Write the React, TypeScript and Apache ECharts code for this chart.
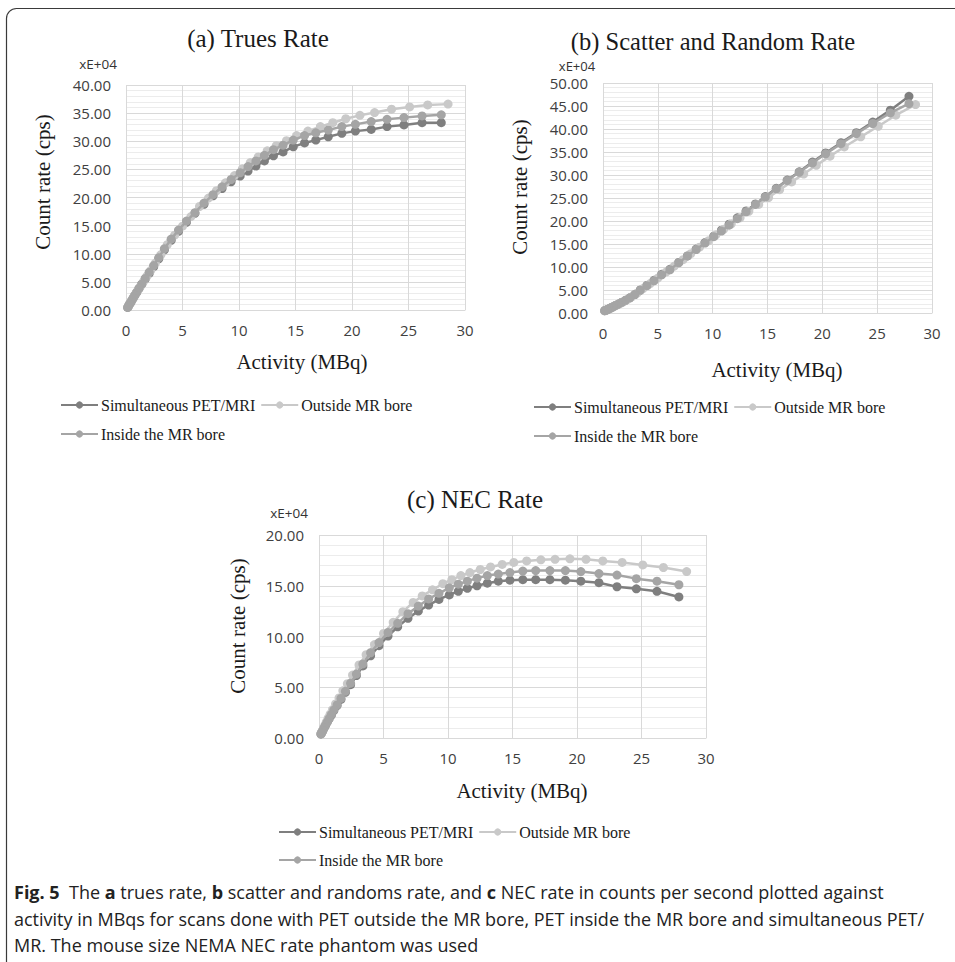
import React, { useEffect, useRef } from "react";
import * as echarts from "echarts";

// ---------- data ----------
const SERIES_NAMES = ["Simultaneous PET/MRI", "Outside MR bore", "Inside the MR bore"];
const COLORS = ["#7f7f7f", "#c9c9c9", "#a5a5a5"];

// activity (MBq) for simultaneous & inside-bore scans
const xSim = [27.9, 26.2, 24.6, 23.1, 21.7, 20.3, 19.1, 17.9, 16.8, 15.8, 14.8, 13.9, 13.05, 12.25, 11.5, 10.8, 10.1, 9.3, 8.5, 7.7, 6.9, 6.1, 5.35, 4.65, 4.0, 3.4, 2.9, 2.45, 2.05, 1.7, 1.4, 1.15, 0.95, 0.78, 0.63, 0.5, 0.4, 0.3, 0.22, 0.15];
// activity (MBq) for outside-bore scans
const xOut = [28.5, 26.7, 25.1, 23.5, 22.0, 20.7, 19.45, 18.3, 17.2, 16.1, 15.1, 14.2, 13.3, 12.5, 11.7, 11.0, 10.3, 9.6, 8.8, 8.0, 7.3, 6.5, 5.75, 5.0, 4.3, 3.65, 3.1, 2.6, 2.2, 1.85, 1.55, 1.28, 1.05, 0.86, 0.7, 0.56, 0.44, 0.34, 0.25, 0.17];

// (a) trues rate (xE+04 cps)
const truesSim = [33.3, 33.3, 32.9, 32.6, 32.1, 31.8, 31.4, 30.8, 30.2, 29.7, 29.0, 28.1, 27.4, 26.5, 25.6, 24.7, 23.8, 22.8, 21.6, 20.3, 18.8, 17.2, 15.6, 14.0, 12.4, 10.7, 9.1, 7.7, 6.5, 5.5, 4.6, 3.8, 3.15, 2.6, 2.1, 1.65, 1.3, 1.0, 0.7, 0.45];
const truesOut = [36.6, 36.45, 36.1, 35.7, 35.1, 34.6, 34.0, 33.3, 32.6, 31.8, 31.0, 30.1, 29.2, 28.3, 27.2, 26.2, 25.1, 23.9, 22.6, 21.2, 19.9, 18.4, 16.6, 14.9, 13.3, 11.6, 9.85, 8.35, 7.05, 6.0, 5.05, 4.2, 3.5, 2.9, 2.35, 1.9, 1.5, 1.15, 0.8, 0.55];
const truesIn = [34.7, 34.5, 34.2, 33.9, 33.5, 33.0, 32.6, 32.0, 31.5, 31.0, 30.2, 29.3, 28.5, 27.5, 26.5, 25.5, 24.4, 23.2, 21.9, 20.5, 19.0, 17.3, 15.8, 14.2, 12.6, 10.9, 9.3, 7.9, 6.7, 5.6, 4.6, 3.85, 3.15, 2.6, 2.1, 1.65, 1.3, 1.0, 0.7, 0.45];

// (b) scatter and random rate (xE+04 cps)
const scatSim = [47.1, 44.1, 41.5, 39.2, 37.0, 34.8, 32.8, 30.7, 28.9, 27.1, 25.3, 23.7, 22.2, 20.7, 19.3, 18.0, 16.7, 15.3, 13.9, 12.4, 11.0, 9.5, 8.4, 7.1, 6.0, 5.0, 4.0, 3.3, 2.75, 2.3, 1.95, 1.65, 1.4, 1.2, 1.0, 0.85, 0.75, 0.65, 0.55, 0.5];
const scatOut = [45.3, 43.0, 40.6, 38.3, 36.1, 34.1, 32.1, 30.2, 28.5, 26.8, 25.1, 23.6, 22.1, 20.7, 19.4, 18.2, 17.0, 15.7, 14.3, 12.9, 11.6, 10.2, 8.9, 7.6, 6.4, 5.3, 4.3, 3.5, 2.9, 2.45, 2.05, 1.75, 1.5, 1.25, 1.05, 0.9, 0.78, 0.66, 0.56, 0.48];
const scatIn = [45.5, 43.5, 41.2, 39.0, 36.8, 34.6, 32.6, 30.6, 28.8, 27.0, 25.2, 23.6, 22.0, 20.5, 19.1, 17.8, 16.6, 15.2, 13.8, 12.4, 10.9, 9.4, 8.3, 7.0, 5.95, 4.95, 4.0, 3.3, 2.75, 2.3, 1.95, 1.65, 1.4, 1.2, 1.0, 0.85, 0.75, 0.65, 0.55, 0.5];

// (c) NEC rate (xE+04 cps)
const necSim = [13.9, 14.45, 14.7, 14.9, 15.3, 15.45, 15.55, 15.6, 15.6, 15.6, 15.55, 15.45, 15.25, 15.0, 14.75, 14.45, 14.1, 13.65, 13.1, 12.5, 11.8, 10.95, 10.05, 9.1, 8.1, 7.1, 6.15, 5.25, 4.5, 3.8, 3.2, 2.7, 2.25, 1.9, 1.55, 1.25, 1.0, 0.75, 0.55, 0.4];
const necOut = [16.4, 16.8, 17.05, 17.3, 17.45, 17.6, 17.65, 17.6, 17.55, 17.45, 17.3, 17.1, 16.85, 16.6, 16.3, 16.0, 15.6, 15.2, 14.6, 14.0, 13.35, 12.45, 11.4, 10.3, 9.2, 8.2, 7.2, 6.2, 5.35, 4.65, 3.95, 3.35, 2.8, 2.35, 1.95, 1.55, 1.2, 0.95, 0.7, 0.5];
const necIn = [15.1, 15.45, 15.7, 16.05, 16.2, 16.4, 16.5, 16.5, 16.5, 16.45, 16.3, 16.15, 16.0, 15.75, 15.45, 15.15, 14.8, 14.25, 13.7, 13.0, 12.25, 11.3, 10.4, 9.4, 8.4, 7.3, 6.3, 5.4, 4.6, 3.9, 3.25, 2.75, 2.3, 1.9, 1.55, 1.25, 1.0, 0.75, 0.55, 0.4];

const X_TICKS = { min: 0, max: 30, interval: 5 };
const Y_MAX = [40, 50, 20];

const TITLES = ["(a) Trues Rate", "(b) Scatter and Random Rate", "(c) NEC Rate"];
const X_TITLE = "Activity (MBq)";
const Y_TITLE = "Count rate (cps)";
const Y_UNIT = "xE+04";
const CAPTION = [
  "{b|Fig. 5}  The {b|a} trues rate, {b|b} scatter and randoms rate, and {b|c} NEC rate in counts per second plotted against",
  "activity in MBqs for scans done with PET outside the MR bore, PET inside the MR bore and simultaneous PET/",
  "MR. The mouse size NEMA NEC rate phantom was used",
];

// ---------- layout ----------
const GRIDS = [
  { left: 126, top: 85, width: 339, height: 225 },
  { left: 603, top: 83, width: 329, height: 230 },
  { left: 319, top: 535, width: 387, height: 203 },
];

const SERIF = "Liberation Serif";
const SANS = "Open Sans";

function pts(xs: number[], ys: number[]) {
  return xs.map((x, i) => [x, ys[i]]);
}

function text(x: number, y: number, t: string, size: number, family: string, extra: any = {}) {
  return {
    type: "text",
    x,
    y,
    rotation: extra.rotation || 0,
    silent: true,
    style: {
      text: t,
      fontSize: size,
      fontFamily: family,
      fill: extra.fill || "#1a1a1a",
      align: extra.align || "center",
      verticalAlign: "middle",
      textAlign: extra.align || "center",
      textVerticalAlign: "middle",
      fontWeight: "normal",
      rich: extra.rich,
    },
  };
}

export default function App() {
  const ref = useRef<HTMLDivElement>(null);

  useEffect(() => {
    if (!ref.current) return;
    const chart = echarts.init(ref.current, null, { renderer: "svg" });

    const xAxes = GRIDS.map((_, i) => ({
      type: "value",
      gridIndex: i,
      ...X_TICKS,
      axisLine: { show: true, lineStyle: { color: "#d9d9d9", width: 1 } },
      axisTick: { show: false },
      axisLabel: { color: "#404040", fontSize: 15, fontFamily: SANS, margin: 12 },
      splitLine: { show: true, lineStyle: { color: "#d9d9d9", width: 1 } },
    }));
    const yAxes = GRIDS.map((_, i) => ({
      type: "value",
      gridIndex: i,
      min: 0,
      max: Y_MAX[i],
      interval: 5,
      axisLine: { show: false },
      axisTick: { show: false },
      axisLabel: {
        color: "#404040",
        fontSize: 15,
        fontFamily: SANS,
        margin: 15,
        formatter: (v: number) => v.toFixed(2),
      },
      splitLine: { show: true, lineStyle: { color: "#d9d9d9", width: 1 } },
      minorTick: { show: false, splitNumber: 5 },
      minorSplitLine: { show: true, lineStyle: { color: "#ececec", width: 1 } },
    }));

    const dataSets = [
      [pts(xSim, truesSim), pts(xOut, truesOut), pts(xSim, truesIn)],
      [pts(xSim, scatSim), pts(xOut, scatOut), pts(xSim, scatIn)],
      [pts(xSim, necSim), pts(xOut, necOut), pts(xSim, necIn)],
    ];

    const series: any[] = [];
    dataSets.forEach((sets, g) => {
      sets.forEach((d, k) => {
        series.push({
          type: "line",
          name: SERIES_NAMES[k],
          xAxisIndex: g,
          yAxisIndex: g,
          data: d,
          symbol: "circle",
          symbolSize: 9,
          showSymbol: true,
          color: COLORS[k],
          itemStyle: { color: COLORS[k] },
          lineStyle: { color: COLORS[k], width: 2.5 },
          z: 2 + k,
        });
      });
    });

    const legendBase = {
      orient: "horizontal",
      padding: 0,
      itemWidth: 37,
      itemHeight: 9,
      itemGap: 5,
      selectedMode: false,
      textStyle: { fontFamily: SERIF, fontSize: 16, color: "#1a1a1a", padding: [0, 0, 0, -2] },
    };
    const legendPos = [
      [60, 397, 426],
      [533, 399, 428],
      [278, 824, 852],
    ];
    const legends: any[] = [];
    legendPos.forEach(([left, t1, t2]) => {
      legends.push({ ...legendBase, left, top: t1, data: [SERIES_NAMES[0], SERIES_NAMES[1]] });
      legends.push({ ...legendBase, left, top: t2, data: [SERIES_NAMES[2]] });
    });

    const capRich = { b: { fontWeight: "bold", fontSize: 18, fontFamily: SANS, fill: "#222" } };

    const graphics: any[] = [
      {
        type: "rect",
        silent: true,
        shape: { x: 6.5, y: 8.5, width: 1200, height: 1200, r: 10 },
        style: { fill: "none", stroke: "#3a3a3a", lineWidth: 1.2 },
      },
      text(258, 38, TITLES[0], 25, SERIF),
      text(713, 41, TITLES[1], 24.5, SERIF),
      text(475, 499, TITLES[2], 25, SERIF),
      text(98, 64, Y_UNIT, 13.5, SANS, { fill: "#333" }),
      text(577, 65.5, Y_UNIT, 13, SANS, { fill: "#333" }),
      text(289, 513, Y_UNIT, 13.5, SANS, { fill: "#333" }),
      text(43, 182, Y_TITLE, 21, SERIF, { rotation: Math.PI / 2 }),
      text(520, 187, Y_TITLE, 21, SERIF, { rotation: Math.PI / 2 }),
      text(238, 626, Y_TITLE, 21, SERIF, { rotation: Math.PI / 2 }),
      text(302, 362, X_TITLE, 21, SERIF),
      text(777, 370, X_TITLE, 21, SERIF),
      text(522, 791, X_TITLE, 21, SERIF),
      text(14, 892, CAPTION[0], 18, SANS, { align: "left", fill: "#222", rich: capRich }),
      text(14, 919, CAPTION[1], 18, SANS, { align: "left", fill: "#222" }),
      text(14, 945, CAPTION[2], 18, SANS, { align: "left", fill: "#222" }),
    ];

    chart.setOption({
      animation: false,
      backgroundColor: "#ffffff",
      grid: GRIDS.map((g) => ({ ...g, containLabel: false })),
      xAxis: xAxes,
      yAxis: yAxes,
      legend: legends,
      series,
      graphic: { elements: graphics },
    });

    return () => chart.dispose();
  }, []);

  return (
    <div
      ref={ref}
      style={{ position: "absolute", left: 0, top: 0, width: 955, height: 962, background: "#fff" }}
    />
  );
}
